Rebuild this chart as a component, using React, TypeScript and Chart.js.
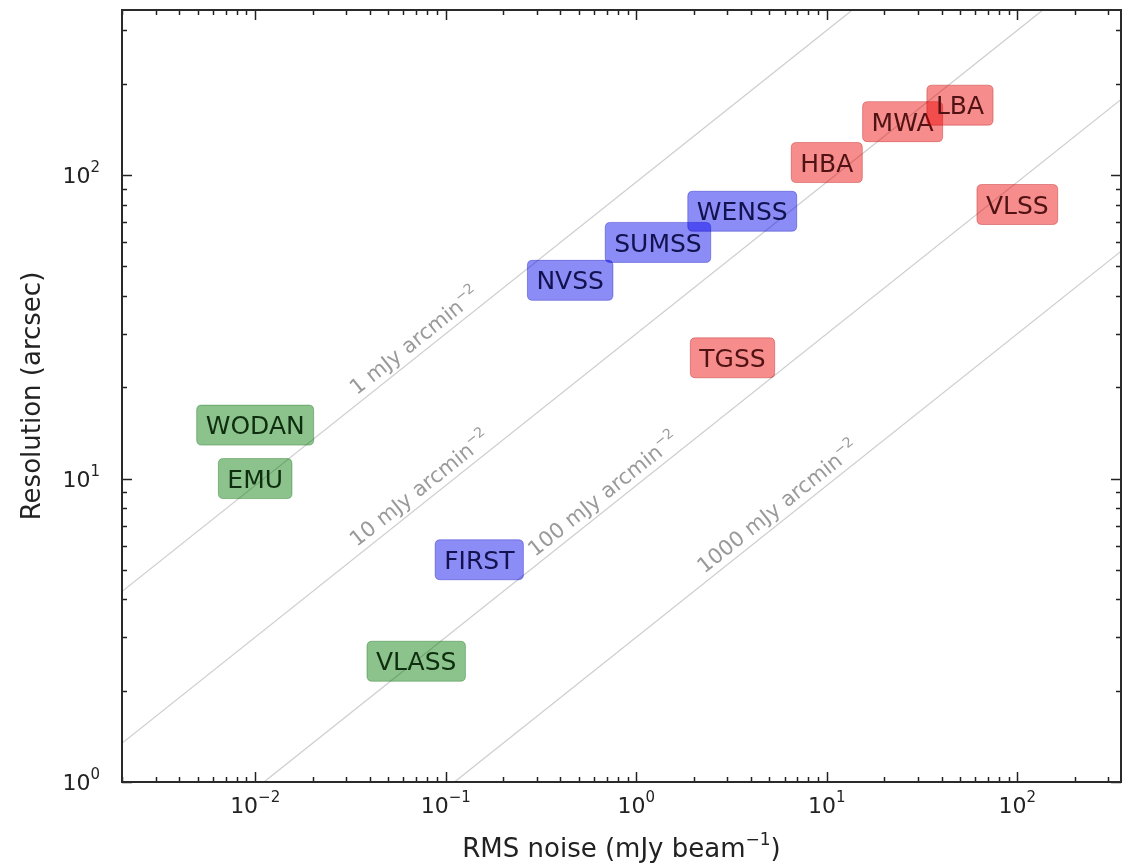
import React, { useEffect, useRef } from 'react';
import { Chart, registerables } from 'chart.js';

Chart.register(...registerables);

// Radio surveys: name, rms noise (mJy/beam), angular resolution (arcsec)
const surveyNames = ['WODAN', 'EMU', 'VLASS', 'FIRST', 'NVSS', 'SUMSS', 'WENSS', 'TGSS', 'HBA', 'MWA', 'LBA', 'VLSS'];
const surveyRms = [0.01, 0.01, 0.07, 0.15, 0.45, 1.3, 3.6, 3.2, 10, 25, 50, 100];
const surveyResolution = [15, 10, 2.5, 5.4, 45, 60, 76, 25, 110, 150, 170, 80];
const surveyGroup = ['g', 'g', 'g', 'b', 'b', 'b', 'b', 'r', 'r', 'r', 'r', 'r'];

// Lines of constant surface brightness (mJy arcmin^-2)
const surfaceLevels = [1, 10, 100, 1000];
const surfaceLabelRms = [0.036, 0.036, 0.31, 2.4];
// resolution^2 = beamFactor * rms / surfaceBrightness
const beamFactor = 9000;

// Axis ranges and decade labels
const xRange = [0.002, 350];
const yRange = [1, 350];
const xTickExponents = [-2, -1, 0, 1, 2];
const yTickExponents = [0, 1, 2];

const FONT = '"DejaVu Sans", Verdana, sans-serif';

const boxFill: Record<string, string> = {
  g: 'rgba(0,122,0,0.45)',
  b: 'rgba(0,0,235,0.45)',
  r: 'rgba(235,0,0,0.45)',
};
const boxEdge: Record<string, string> = {
  g: 'rgba(0,100,0,0.35)',
  b: 'rgba(0,0,180,0.35)',
  r: 'rgba(180,0,0,0.35)',
};
const boxText: Record<string, string> = {
  g: '#0f2e0f',
  b: '#121250',
  r: '#501212',
};

const surfaceTheta = (rms: number, level: number) => Math.sqrt((beamFactor * rms) / level);

function supWidth(ctx: CanvasRenderingContext2D, base: string, sup: string, size: number, supSize: number) {
  ctx.font = `${size}px ${FONT}`;
  const w1 = ctx.measureText(base).width;
  ctx.font = `${supSize}px ${FONT}`;
  const w2 = ctx.measureText(sup).width;
  return w1 + w2;
}

// draws base text followed by a raised superscript, left-aligned at (x, y) baseline
function drawSup(
  ctx: CanvasRenderingContext2D,
  base: string,
  sup: string,
  x: number,
  y: number,
  size: number,
  supSize: number,
  rise: number,
  tail = ''
) {
  ctx.textAlign = 'left';
  ctx.textBaseline = 'alphabetic';
  ctx.font = `${size}px ${FONT}`;
  ctx.fillText(base, x, y);
  let cx = x + ctx.measureText(base).width;
  ctx.font = `${supSize}px ${FONT}`;
  ctx.fillText(sup, cx, y - rise);
  cx += ctx.measureText(sup).width;
  if (tail) {
    ctx.font = `${size}px ${FONT}`;
    ctx.fillText(tail, cx, y);
    cx += ctx.measureText(tail).width;
  }
  return cx - x;
}

function logTicks(min: number, max: number) {
  const out: { v: number; major: boolean }[] = [];
  for (let e = Math.floor(Math.log10(min)); e <= Math.ceil(Math.log10(max)); e++) {
    for (let m = 1; m < 10; m++) {
      const v = m * Math.pow(10, e);
      if (v >= min * 0.9999 && v <= max * 1.0001) out.push({ v, major: m === 1 });
    }
  }
  return out;
}

function roundRect(ctx: CanvasRenderingContext2D, x: number, y: number, w: number, h: number, r: number) {
  ctx.beginPath();
  ctx.moveTo(x + r, y);
  ctx.lineTo(x + w - r, y);
  ctx.quadraticCurveTo(x + w, y, x + w, y + r);
  ctx.lineTo(x + w, y + h - r);
  ctx.quadraticCurveTo(x + w, y + h, x + w - r, y + h);
  ctx.lineTo(x + r, y + h);
  ctx.quadraticCurveTo(x, y + h, x, y + h - r);
  ctx.lineTo(x, y + r);
  ctx.quadraticCurveTo(x, y, x + r, y);
  ctx.closePath();
}

const decorations = {
  id: 'decorations',
  afterDatasetsDraw(chart: any) {
    const { ctx, chartArea: a, scales } = chart;
    const xs = scales.x;
    const ys = scales.y;

    // surface brightness labels along their lines
    ctx.save();
    ctx.beginPath();
    ctx.rect(a.left, a.top, a.right - a.left, a.bottom - a.top);
    ctx.clip();
    ctx.fillStyle = '#9a9a9a';
    surfaceLevels.forEach((level, i) => {
      const r0 = surfaceLabelRms[i];
      const p0x = xs.getPixelForValue(r0);
      const p0y = ys.getPixelForValue(surfaceTheta(r0, level));
      const p1x = xs.getPixelForValue(r0 * 10);
      const p1y = ys.getPixelForValue(surfaceTheta(r0 * 10, level));
      const ang = Math.atan2(p0y - p1y, p1x - p0x);
      ctx.save();
      ctx.translate(p0x, p0y);
      ctx.rotate(-ang);
      drawSup(ctx, `${level} mJy arcmin`, '\u22122', 0, -7, 21, 14, 9);
      ctx.restore();
    });
    ctx.restore();

    // survey boxes
    const size = 25;
    const padX = 9;
    const boxH = 40;
    surveyNames.forEach((name, i) => {
      const cx = xs.getPixelForValue(surveyRms[i]);
      const cy = ys.getPixelForValue(surveyResolution[i]);
      ctx.font = `${size}px ${FONT}`;
      const tw = ctx.measureText(name).width;
      const bw = tw + 2 * padX;
      ctx.fillStyle = boxFill[surveyGroup[i]];
      roundRect(ctx, cx - bw / 2, cy - boxH / 2, bw, boxH, 5);
      ctx.fill();
      ctx.strokeStyle = boxEdge[surveyGroup[i]];
      ctx.lineWidth = 1;
      ctx.stroke();
      ctx.fillStyle = boxText[surveyGroup[i]];
      ctx.textAlign = 'center';
      ctx.textBaseline = 'alphabetic';
      ctx.fillText(name, cx, cy + size * 0.729 / 2);
    });
  },
  afterDraw(chart: any) {
    const { ctx, chartArea: a, scales } = chart;
    const xs = scales.x;
    const ys = scales.y;
    ctx.save();

    // ticks, pointing inwards on all four sides
    ctx.strokeStyle = '#222';
    ctx.lineWidth = 1.5;
    const majorLen = 10;
    const minorLen = 5;
    logTicks(xRange[0], xRange[1]).forEach(({ v, major }) => {
      const px = Math.round(xs.getPixelForValue(v)) + 0.5;
      const len = major ? majorLen : minorLen;
      ctx.beginPath();
      ctx.moveTo(px, a.bottom);
      ctx.lineTo(px, a.bottom - len);
      ctx.moveTo(px, a.top);
      ctx.lineTo(px, a.top + len);
      ctx.stroke();
    });
    logTicks(yRange[0], yRange[1]).forEach(({ v, major }) => {
      const py = Math.round(ys.getPixelForValue(v)) + 0.5;
      const len = major ? majorLen : minorLen;
      ctx.beginPath();
      ctx.moveTo(a.left, py);
      ctx.lineTo(a.left + len, py);
      ctx.moveTo(a.right, py);
      ctx.lineTo(a.right - len, py);
      ctx.stroke();
    });

    // frame
    ctx.lineWidth = 2;
    ctx.strokeStyle = '#2a2a2a';
    ctx.strokeRect(a.left, a.top, a.right - a.left, a.bottom - a.top);

    // tick labels
    ctx.fillStyle = '#222';
    const tSize = 22;
    const sSize = 15;
    xTickExponents.forEach((e) => {
      const px = xs.getPixelForValue(Math.pow(10, e));
      const sup = e < 0 ? `\u2212${-e}` : `${e}`;
      const w = supWidth(ctx, '10', sup, tSize, sSize);
      drawSup(ctx, '10', sup, px - w / 2, a.bottom + 31, tSize, sSize, 11);
    });
    yTickExponents.forEach((e) => {
      const py = ys.getPixelForValue(Math.pow(10, e));
      const sup = `${e}`;
      const w = supWidth(ctx, '10', sup, tSize, sSize);
      drawSup(ctx, '10', sup, a.left - 22 - w, py + 8, tSize, sSize, 11);
    });

    // axis titles
    const lSize = 26;
    const xt = 'RMS noise (mJy beam';
    const w = supWidth(ctx, xt, '\u22121', lSize, 17) + (() => {
      ctx.font = `${lSize}px ${FONT}`;
      return ctx.measureText(')').width;
    })();
    drawSup(ctx, xt, '\u22121', (a.left + a.right) / 2 - w / 2, 857, lSize, 17, 12, ')');

    ctx.save();
    ctx.translate(33, (a.top + a.bottom) / 2);
    ctx.rotate(-Math.PI / 2);
    ctx.font = `${lSize}px ${FONT}`;
    ctx.textAlign = 'center';
    ctx.textBaseline = 'middle';
    ctx.fillText('Resolution (arcsec)', 0, 0);
    ctx.restore();

    ctx.restore();
  },
};

export default function App() {
  const canvasRef = useRef<HTMLCanvasElement | null>(null);

  useEffect(() => {
    const canvas = canvasRef.current;
    if (!canvas) return;

    const lineSets = surfaceLevels.map((level) => ({
      type: 'line' as const,
      data: [
        { x: 1e-3, y: surfaceTheta(1e-3, level) },
        { x: 1e3, y: surfaceTheta(1e3, level) },
      ],
      borderColor: '#cfcfcf',
      borderWidth: 1.3,
      pointRadius: 0,
      showLine: true,
      fill: false,
    }));

    const chart = new Chart(canvas, {
      type: 'scatter',
      data: {
        datasets: [
          ...lineSets,
          {
            type: 'scatter' as const,
            data: surveyRms.map((r, i) => ({ x: r, y: surveyResolution[i] })),
            pointRadius: 0,
          },
        ] as any,
      },
      options: {
        animation: false,
        responsive: true,
        maintainAspectRatio: false,
        layout: { padding: { left: 122, right: 10, top: 10, bottom: 83 } },
        scales: {
          x: { type: 'logarithmic', min: xRange[0], max: xRange[1], display: false },
          y: { type: 'logarithmic', min: yRange[0], max: yRange[1], display: false },
        },
        plugins: {
          legend: { display: false },
          tooltip: { enabled: false },
        },
      },
      plugins: [decorations],
    });

    return () => chart.destroy();
  }, []);

  return (
    <div style={{ position: 'fixed', left: 0, top: 0, width: 1131, height: 865, background: '#fff' }}>
      <canvas ref={canvasRef} />
    </div>
  );
}
